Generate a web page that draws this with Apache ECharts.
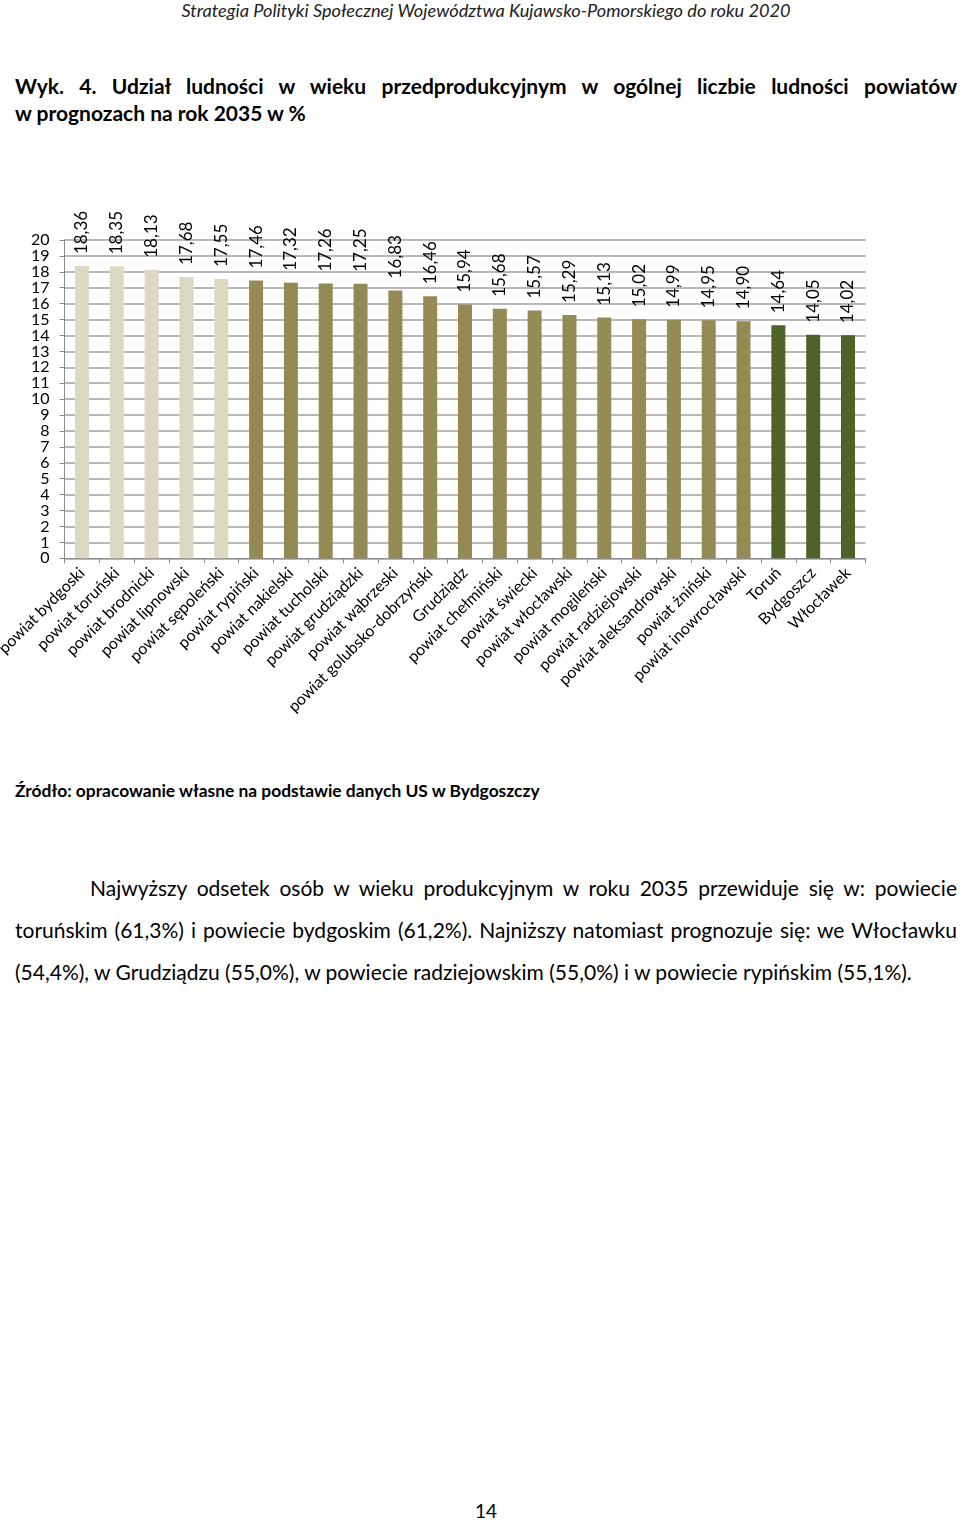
<!DOCTYPE html>
<html>
<head>
<meta charset="utf-8">
<script src="https://cdn.jsdelivr.net/npm/echarts@6/dist/echarts.min.js"></script>
<style>
  html, body { margin: 0; padding: 0; background: #fff; }
  body { width: 960px; height: 1522px; position: relative; overflow: hidden; font-family: Lato, "Noto Sans", sans-serif; color: #000; }
  .abs { position: absolute; }
  .header { top: 0; left: 0; width: 972px; text-align: center; font-style: italic; font-size: 18.2px; line-height: 20px; color: #222; }
  .jline { white-space: nowrap; text-align: justify; text-align-last: justify; }
  .title { left: 15px; width: 942px; font-weight: bold; font-size: 21px; line-height: 27px; }
  .source { left: 15px; top: 780px; font-weight: bold; font-size: 17.4px; line-height: 22px; }
  .para { left: 15px; width: 942px; font-size: 21px; line-height: 42px; }
  #chart { position: absolute; left: 0; top: 150px; width: 960px; height: 600px; }
  .page { top: 1500px; left: 0; width: 972px; text-align: center; font-size: 19px; line-height: 22px; }
</style>
</head>
<body>
<div class="abs header">Strategia Polityki Społecznej Województwa Kujawsko-Pomorskiego do roku 2020</div>
<div class="abs title" style="top:72px">
  <div class="jline">Wyk. 4. Udział ludności w wieku przedprodukcyjnym w ogólnej liczbie ludności powiatów</div>
  <div>w prognozach na rok 2035 w %</div>
</div>
<div id="chart"></div>
<div class="abs source">Źródło: opracowanie własne na podstawie danych US w Bydgoszczy</div>
<div class="abs para" style="top:867px">
  <div class="jline" style="padding-left:75px">Najwyższy odsetek osób w wieku produkcyjnym w roku 2035 przewiduje się w: powiecie</div>
  <div class="jline">toruńskim (61,3%) i powiecie bydgoskim (61,2%). Najniższy natomiast prognozuje się: we Włocławku</div>
  <div style="white-space:nowrap">(54,4%), w Grudziądzu (55,0%), w powiecie radziejowskim (55,0%) i w powiecie rypińskim (55,1%).</div>
</div>
<div class="abs page">14</div>
<script>
const categories = [
  "powiat bydgoski", "powiat toruński", "powiat brodnicki", "powiat lipnowski", "powiat sępoleński",
  "powiat rypiński", "powiat nakielski", "powiat tucholski", "powiat grudziądzki", "powiat wąbrzeski",
  "powiat golubsko-dobrzyński", "Grudziądz", "powiat chełmiński", "powiat świecki", "powiat włocławski",
  "powiat mogileński", "powiat radziejowski", "powiat aleksandrowski", "powiat żniński", "powiat inowrocławski",
  "Toruń", "Bydgoszcz", "Włocławek"
];
const values = [
  18.36, 18.35, 18.13, 17.68, 17.55,
  17.46, 17.32, 17.26, 17.25, 16.83,
  16.46, 15.94, 15.68, 15.57, 15.29,
  15.13, 15.02, 14.99, 14.95, 14.90,
  14.64, 14.05, 14.02
];
const tiers = [
  1, 1, 1, 1, 1,
  2, 2, 2, 2, 2,
  2, 2, 2, 2, 2,
  2, 2, 2, 2, 2,
  3, 3, 3
];
const yTicks = [0, 20, 1];

const tierColor = { 1: "#ddd8c2", 2: "#948a54", 3: "#4f6228" };
const gridColor = "#a0a0a0";
const axisColor = "#8c8c8c";
const font = "Lato, 'Noto Sans', sans-serif";

const chart = echarts.init(document.getElementById('chart'), null, { renderer: 'canvas' });
chart.setOption({
  animation: false,
  grid: { left: 64.6, top: 90, width: 800.8, height: 318.3, containLabel: false, outerBoundsMode: 'none' },
  xAxis: {
    type: 'category',
    data: categories,
    boundaryGap: true,
    axisLine: { show: true, lineStyle: { color: axisColor, width: 1 } },
    axisTick: { show: true, length: 5, lineStyle: { color: axisColor } },
    axisLabel: { interval: 0, rotate: 45, fontSize: 16, color: '#000', fontFamily: font, margin: 12 },
    splitLine: { show: false }
  },
  yAxis: {
    type: 'value',
    min: yTicks[0], max: yTicks[1], interval: yTicks[2],
    axisLine: { show: true, lineStyle: { color: axisColor, width: 1 } },
    axisTick: { show: true, length: 5, lineStyle: { color: axisColor } },
    axisLabel: { fontSize: 16, color: '#000', fontFamily: font, margin: 15 },
    splitLine: { show: true, lineStyle: { color: gridColor, width: 1.5 } }
  },
  series: [{
    type: 'bar',
    barWidth: 14,
    data: values.map((v, i) => ({ value: v, itemStyle: { color: tierColor[tiers[i]] } })),
    label: {
      show: true,
      position: 'top',
      rotate: 90,
      align: 'left',
      verticalAlign: 'middle',
      distance: 12,
      fontSize: 17,
      color: '#000',
      fontFamily: font,
      formatter: p => p.value.toFixed(2).replace('.', ',')
    }
  }]
});
</script>
</body>
</html>
